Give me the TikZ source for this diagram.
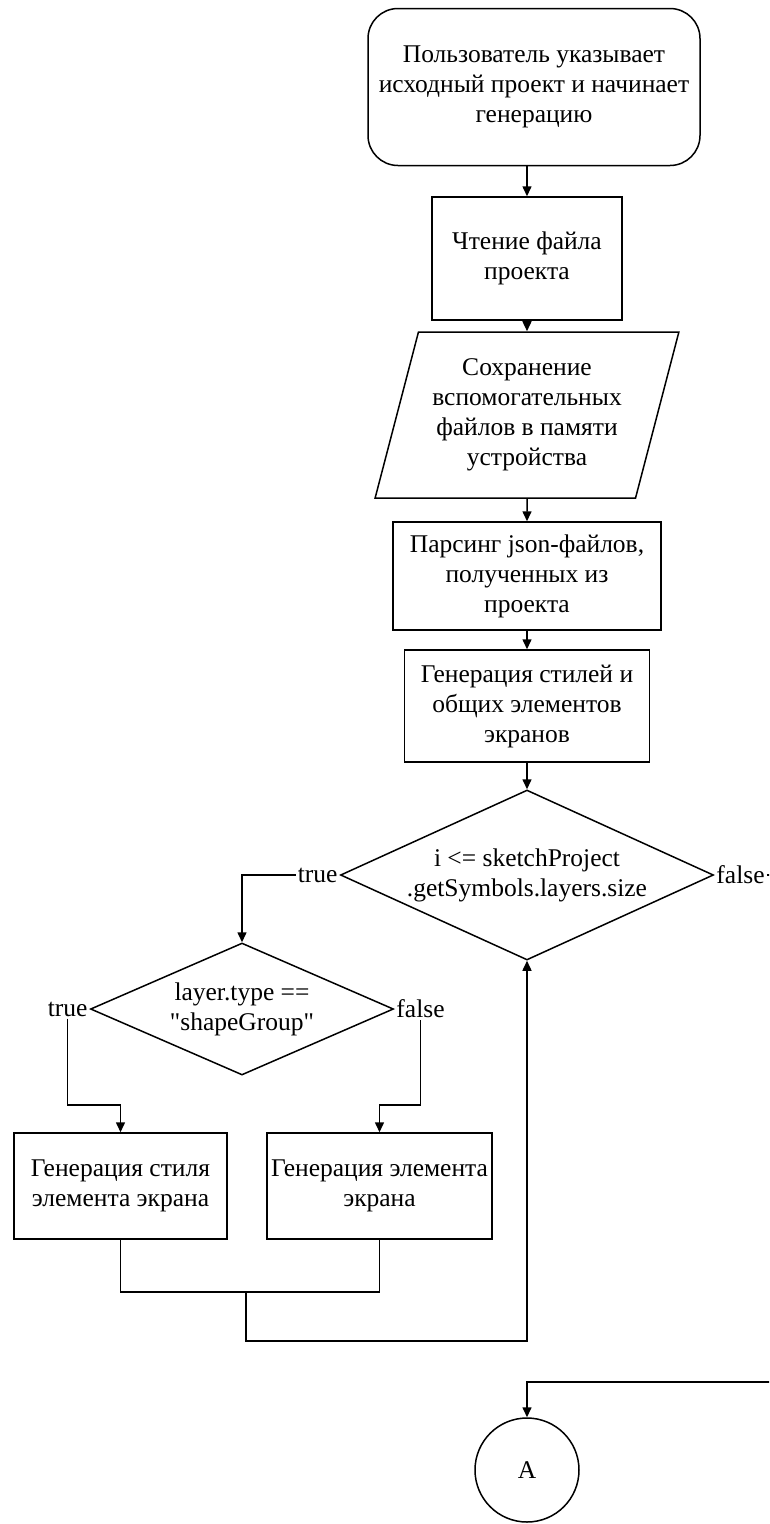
\documentclass[tikz,border=0pt]{standalone}
\usepackage{fontspec}
\setmainfont{Liberation Serif}
\usetikzlibrary{arrows.meta}
\usetikzlibrary{positioning, shapes.geometric}

\begin{document}
\begin{tikzpicture}[x=1pt, y=-1pt,
  every node/.style={font=\fontsize{25.5}{30}\selectfont, align=center},
  block/.style={draw, line width=1.5pt, rectangle, inner sep=0pt},
  startblock/.style={block, rounded corners=30pt},
  io/.style={draw, line width=1.5pt, trapezium, trapezium left angle=71.4,
    trapezium right angle=108.6, trapezium stretches=true, inner sep=0pt},
  cond/.style={draw, line width=1.5pt, diamond, inner sep=0pt},
  conn/.style={draw, line width=1.5pt, circle, minimum size=104pt},
  lbl/.style={inner sep=2pt},
  line/.style={line width=1.5pt},
  arr/.style={line, -{Triangle[length=10pt, width=9pt]}}]
  \useasboundingbox (0,0) rectangle (769,1524);
  \clip (0,0) rectangle (769,1524);

  % main column
  \node[startblock, minimum width=332pt, minimum height=157pt] (start) at (534,87)
    {Пользователь указывает\\исходный проект и начинает\\генерацию};
  \node[block, minimum width=190pt, minimum height=123pt] (read) at (527,258.5)
    {Чтение файла\\проекта};
  \node[io, minimum width=304pt, minimum height=166pt] (save) at (527,415)
    {Сохранение\\вспомогательных\\файлов в памяти\\устройства};
  \node[block, minimum width=268pt, minimum height=108pt] (parse) at (527,576)
    {Парсинг json-файлов,\\полученных из\\проекта};
  \node[block, minimum width=245pt, minimum height=112pt] (gen) at (527,706)
    {Генерация стилей и\\общих элементов\\экранов};

  % loop over the layers
  \node[cond, shape aspect=2.2, minimum width=373pt, minimum height=170pt] (loop) at (527,875)
    {i <= sketchProject\\.getSymbols.layers.size};
  \node[cond, shape aspect=2.3, minimum width=303pt, minimum height=132pt] (check) at (242,1009)
    {layer.type ==\\\textquotedbl shapeGroup\textquotedbl};
  \node[block, minimum width=213pt, minimum height=106pt] (stylegen) at (120.5,1186)
    {Генерация стиля\\элемента экрана};
  \node[block, minimum width=225pt, minimum height=106pt] (elemgen) at (379.5,1186)
    {Генерация элемента\\экрана};

  % off-page connector
  \node[conn] (A) at (527,1470) {A};

  % branch labels
  \node[lbl, left=0pt of loop.west] (ltrue) {true};
  \node[lbl, right=0pt of loop.east] (lfalse) {false};
  \node[lbl, left=0pt of check.west] (ctrue) {true};
  \node[lbl, right=0pt of check.east] (cfalse) {false};

  \coordinate (tlevel) at (0,1105);
  \coordinate (join) at (246,1292);
  \coordinate (back) at (527,1341);
  \coordinate (outside) at (800,1382);

  % main flow
  \draw[arr] (start.south -| read.north) -- (read.north);
  \draw[arr] (read.south) -- (save.north);
  \draw[arr] (save.south) -- (parse.north);
  \draw[arr] (parse.south) -- (gen.north);
  \draw[arr] (gen.south) -- (loop.north);

  % true: handle the layer
  \draw[line] (loop.west) -- (ltrue.east);
  \draw[arr] (ltrue.west) -| (check.north);
  \draw[arr] (ctrue.south) -- (ctrue.south |- tlevel) -| (stylegen.north);
  \draw[arr] (cfalse.south) -- (cfalse.south |- tlevel) -| (elemgen.north);

  % back to the loop
  \draw[line] (stylegen.south) |- (join) -| (elemgen.south);
  \draw[arr] (join) -- (join |- back) -- (back) -- (loop.south);

  % false: leave the loop
  \draw[arr] (lfalse.east) -| (outside) -| (A.north);
\end{tikzpicture}
\end{document}
